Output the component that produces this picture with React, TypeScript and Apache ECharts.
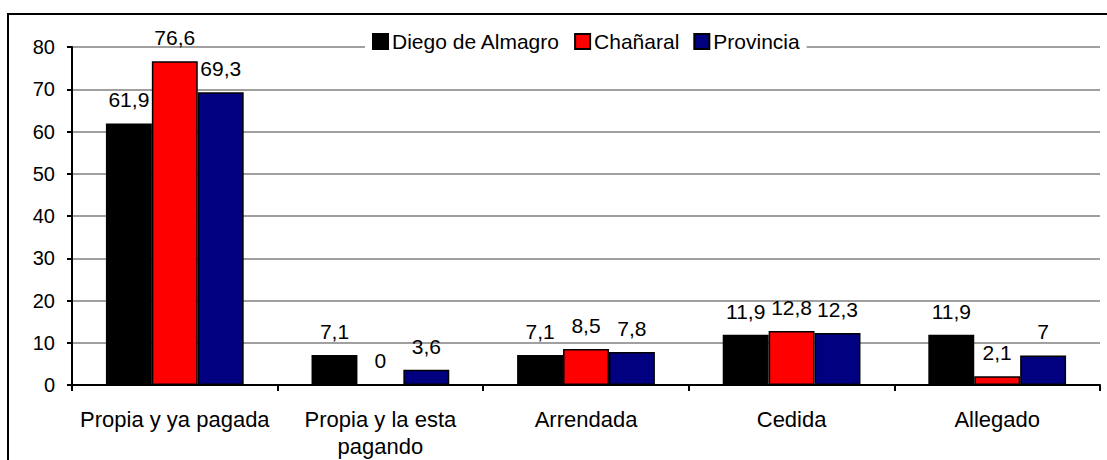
import React, { useEffect, useRef } from "react";
import * as echarts from "echarts";

const categories = [
  "Propia y ya pagada",
  "Propia y la esta\npagando",
  "Arrendada",
  "Cedida",
  "Allegado",
];
const seriesNames = ["Diego de Almagro", "Chañaral", "Provincia"];
const diegoDeAlmagro = [61.9, 7.1, 7.1, 11.9, 11.9];
const chanaral = [76.6, 0, 8.5, 12.8, 2.1];
const provincia = [69.3, 3.6, 7.8, 12.3, 7];
const seriesColors = ["#000000", "#FF0000", "#000080"];
const yMin = 0;
const yMax = 80;
const yInterval = 10;

const FONT = "'Liberation Sans', Arial, sans-serif";

export default function App() {
  const ref = useRef<HTMLDivElement>(null);

  useEffect(() => {
    document.body.style.margin = "0";
    if (!ref.current) return;
    const chart = echarts.init(ref.current, undefined, { renderer: "svg" });
    const values = [diegoDeAlmagro, chanaral, provincia];
    chart.setOption({
      animation: false,
      backgroundColor: "#ffffff",
      textStyle: { fontFamily: FONT },
      graphic: [
        {
          type: "rect",
          z: 100,
          silent: true,
          shape: { x: 8, y: 14, width: 1200, height: 600 },
          style: { fill: "none", stroke: "#000000", lineWidth: 2 },
        },
      ],
      legend: {
        left: 365,
        top: 29,
        padding: [2, 7, 2, 7],
        backgroundColor: "#ffffff",
        itemWidth: 15,
        itemHeight: 15,
        itemGap: 14,
        icon: "rect",
        data: seriesNames,
        textStyle: { fontFamily: FONT, fontSize: 21, color: "#000000", padding: [0, 0, 0, -1] },
        z: 10,
      },
      grid: { left: 72, right: 7, top: 47, bottom: 74, containLabel: false },
      xAxis: {
        type: "category",
        data: categories,
        axisLine: { lineStyle: { color: "#000000", width: 2 } },
        axisTick: { show: true, alignWithLabel: false, length: 6, lineStyle: { color: "#000000", width: 2 } },
        axisLabel: {
          interval: 0,
          margin: 21,
          fontFamily: FONT,
          fontSize: 22,
          lineHeight: 27,
          color: "#000000",
        },
      },
      yAxis: {
        type: "value",
        min: yMin,
        max: yMax,
        interval: yInterval,
        axisLine: { show: true, lineStyle: { color: "#000000", width: 2 } },
        axisTick: { show: true, length: 5, lineStyle: { color: "#000000", width: 2 } },
        axisLabel: { margin: 17, fontFamily: FONT, fontSize: 20, color: "#000000" },
        splitLine: { show: true, lineStyle: { color: "#a0a0a0", width: 2 } },
      },
      series: seriesNames.map((name, i) => ({
        name,
        type: "bar",
        data: values[i],
        barGap: "0%",
        barCategoryGap: "33%",
        itemStyle: { color: seriesColors[i], borderColor: "#000000", borderWidth: 1.5 },
        label: {
          show: true,
          position: "top",
          distance: 13,
          fontFamily: FONT,
          fontSize: 21,
          color: "#000000",
          formatter: (p: any) => String(p.value).replace(".", ","),
        },
      })),
    });
    return () => chart.dispose();
  }, []);

  return <div ref={ref} style={{ width: 1107, height: 460 }} />;
}
